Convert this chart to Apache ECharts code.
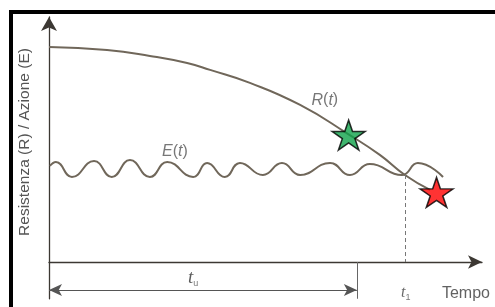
<!DOCTYPE html>
<html>
<head>
<meta charset="utf-8">
<script src="https://cdn.jsdelivr.net/npm/echarts@6/dist/echarts.min.js"></script>
<style>
  html, body {margin: 0; padding: 0; background: #fff;}
  #chart {width: 495px; height: 307px;}
</style>
</head>
<body>
<div id="chart"></div>
<script>
// Schematic: resistance R(t) decays, action E(t) oscillates; failure at t1.
// Axes are unitless (0..100).
const rTime = [0, 13.4, 23.3, 31.9, 37.2, 46.4, 58.0, 69.1, 76.4, 82.2, 88.0]
const rValue = [87.8, 86.5, 84.1, 81.2, 78.4, 73.1, 64.1, 52.2, 43.7, 35.5, 29.4]

const eTime = [0.2, 1.6, 5.3, 10.4, 14.5, 18.7, 23.3, 27.3, 33.3, 36.5, 40.6, 44.1, 49.4, 53.8, 58.0, 64.9, 69.5, 74.1, 81.5, 85.2, 91.0]
const eValue = [39.2, 40.8, 34.7, 41.2, 34.7, 41.6, 34.7, 40.8, 34.7, 40.4, 34.7, 40.4, 35.5, 40.4, 35.5, 40.4, 35.5, 40.0, 35.5, 40.4, 34.7]

const t1 = 82.2          // R meets E
const t1Value = 35.5
const tu = 71.1          // end of service life span
const tuArrowY = -11.4
const tickBottom = -15

const greenStar = [69.2, 51.8]
const redStar = [89.5, 28.4]

const labels = [
  {name: "R", pos: [63.7, 66.1]},
  {name: "E", pos: [29.1, 44.9]},
  {name: "tu", pos: [33.3, -6.5]},
  {name: "t1", pos: [82.4, -12.7]},
  {name: "Tempo", pos: [96.3, -12.7]},
]

const CURVE = "#70675a"
const AXIS = "#3c3833"
const TEXT = "#555"
const SANS = "'Liberation Sans', Arial, sans-serif"
const SERIF = "'Liberation Serif', 'DejaVu Serif', serif"
const STAR = "path://M50,0 L61.23,34.55 L97.55,34.55 L68.16,55.9 L79.39,90.45 L50,69.1 L20.61,90.45 L31.84,55.9 L2.45,34.55 L38.77,34.55 Z"

const zip = (xs, ys) => xs.map((x, i) => [x, ys[i]])

const labelText = {
  R: "{it|R}{p|(}{it|t}{p|)}",
  E: "{it|E}{p|(}{it|t}{p|)}",
  tu: "{ts|t}{sub|u}",
  t1: "{ts1|t}{sub|1}",
  Tempo: "{tempo|Tempo}",
}

const rich = {
  it: {fontFamily: SANS, fontStyle: "italic", fontSize: 16, color: TEXT},
  p: {fontFamily: SANS, fontSize: 16, color: TEXT},
  ts: {fontFamily: SERIF, fontStyle: "italic", fontSize: 19, color: "#333", lineHeight: 20},
  ts1: {fontFamily: SERIF, fontStyle: "italic", fontSize: 16, color: "#444", lineHeight: 18},
  sub: {fontFamily: SANS, fontSize: 9, color: TEXT, verticalAlign: "bottom", padding: [8, 0, 0, 0]},
  tempo: {fontFamily: SANS, fontSize: 16, color: "#3a3a3a"},
}

const axisCommon = {
  type: "value",
  axisTick: {show: false},
  axisLabel: {show: false},
  splitLine: {show: false},
}

const chart = echarts.init(document.getElementById("chart"), null, {renderer: "canvas"})

chart.setOption({
  animation: false,
  backgroundColor: "#fff",
  grid: {left: 49, right: 13, top: 17, bottom: 8.25, containLabel: false},
  xAxis: {
    ...axisCommon,
    min: 0,
    max: 100,
    axisLine: {show: true, onZero: true, symbol: ["none", "arrow"], symbolSize: [10, 14],
      lineStyle: {color: AXIS, width: 1.3}},
  },
  yAxis: {
    ...axisCommon,
    min: tickBottom,
    max: 100,
    axisLine: {show: true, onZero: false, symbol: ["none", "arrow"], symbolSize: [12, 14],
      lineStyle: {color: AXIS, width: 1.3}},
  },
  graphic: [
    {type: "rect", shape: {x: 11, y: 12, width: 520, height: 320},
      style: {fill: "none", stroke: "#000", lineWidth: 4}, z: 100},
    {type: "text", x: 25, y: 142, rotation: Math.PI / 2,
      style: {text: "Resistenza (R) / Azione (E)", font: "15.5px " + SANS, fill: "#555",
        align: "center", verticalAlign: "middle"}},
  ],
  series: [
    {
      type: "line",
      data: zip(rTime, rValue),
      smooth: true,
      showSymbol: false,
      lineStyle: {color: CURVE, width: 2},
      z: 2,
    },
    {
      type: "line",
      data: zip(eTime, eValue),
      smooth: true,
      showSymbol: false,
      lineStyle: {color: CURVE, width: 2},
      z: 2,
      markLine: {
        silent: true,
        symbol: ["none", "none"],
        label: {show: false},
        data: [
          [{coord: [t1, t1Value], lineStyle: {color: "#777", type: [4, 3], width: 1}},
            {coord: [t1, 0]}],
          [{coord: [tu, 0], lineStyle: {color: "#666", type: "solid", width: 1}},
            {coord: [tu, tickBottom]}],
          [{coord: [0, tuArrowY], symbol: "arrow", symbolSize: [9, 13],
            lineStyle: {color: "#555", type: "solid", width: 1.2}},
            {coord: [tu, tuArrowY], symbol: "arrow", symbolSize: [9, 13]}],
        ],
      },
    },
    {
      type: "scatter",
      data: [greenStar],
      symbol: STAR,
      symbolSize: [33, 30],
      symbolKeepAspect: false,
      itemStyle: {color: "#0fa24a", borderColor: "#000", borderWidth: 1.5},
      z: 5,
    },
    {
      type: "scatter",
      data: [redStar],
      symbol: STAR,
      symbolSize: [33, 30],
      symbolKeepAspect: false,
      itemStyle: {color: "#ff0000", borderColor: "#000", borderWidth: 1.5},
      z: 5,
    },
    {
      type: "scatter",
      data: labels.map(l => ({value: l.pos, name: l.name})),
      symbolSize: 0,
      silent: true,
      label: {
        show: true,
        position: "inside",
        formatter: p => labelText[p.name],
        rich,
      },
      z: 4,
    },
  ],
})
</script>
</body>
</html>
